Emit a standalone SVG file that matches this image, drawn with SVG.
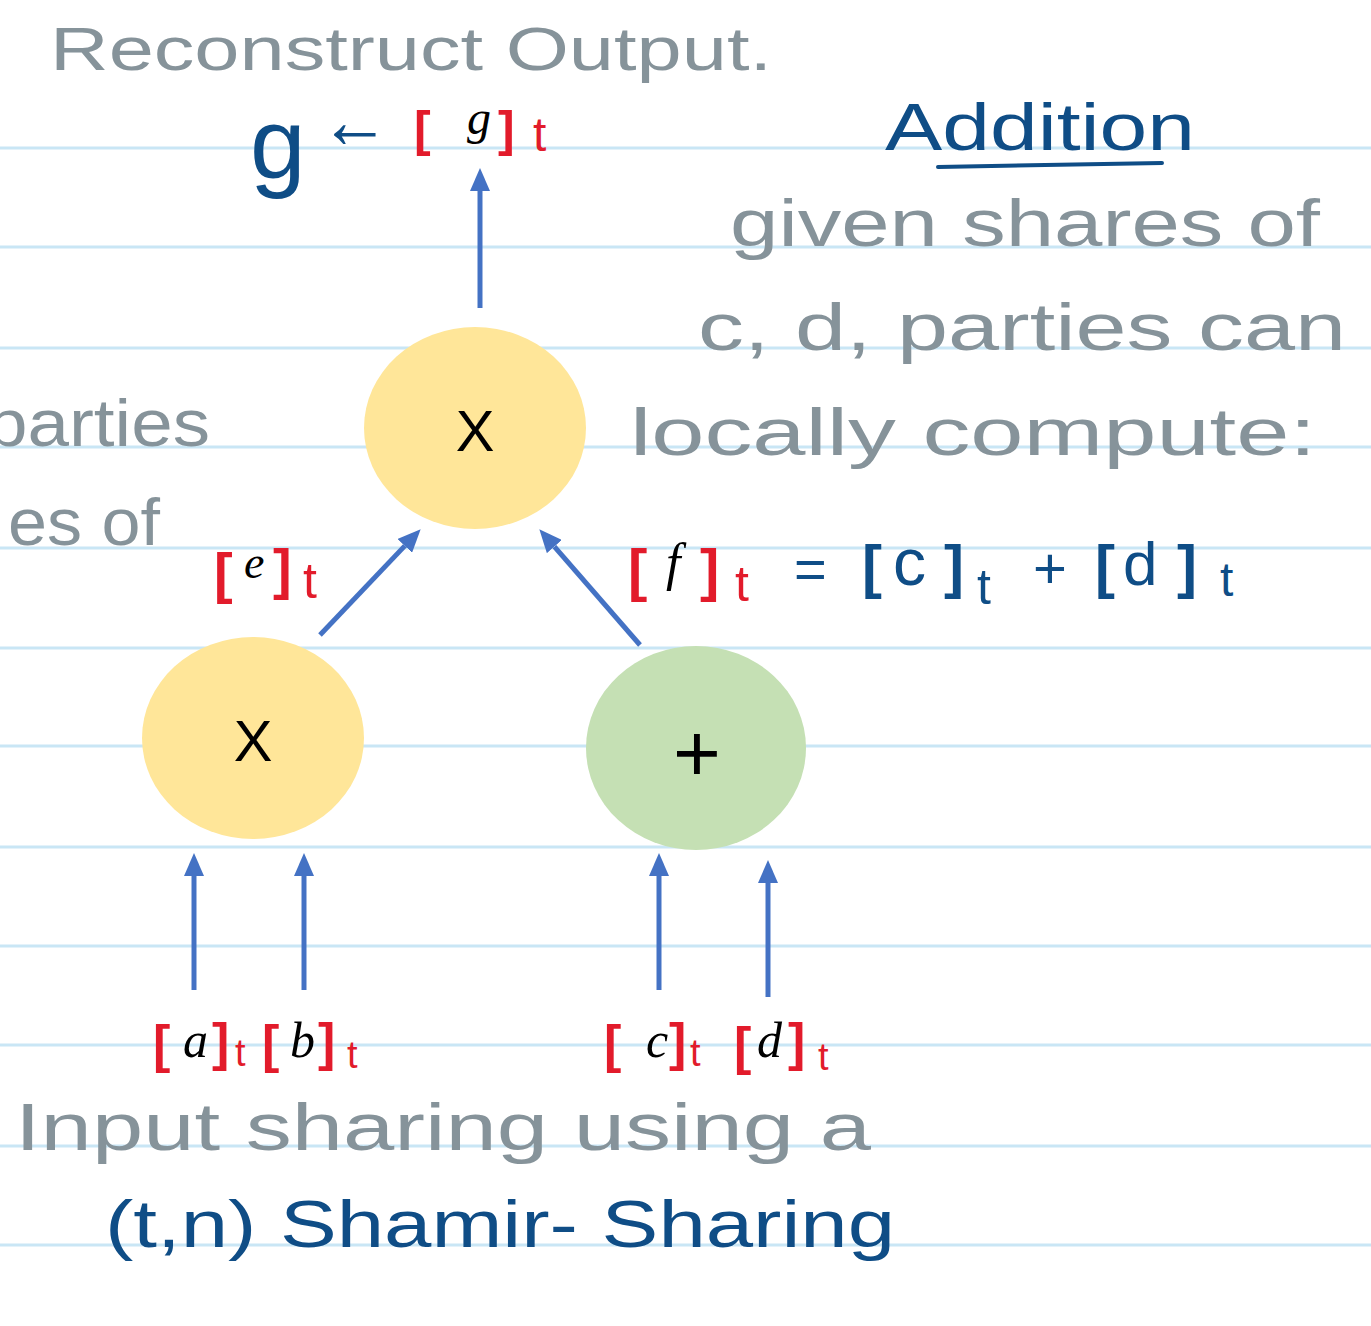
<svg xmlns="http://www.w3.org/2000/svg" width="1371" height="1326" viewBox="0 0 1371 1326">
<defs>
<marker id="ah" markerUnits="userSpaceOnUse" markerWidth="23" markerHeight="20" refX="0" refY="10" orient="auto" viewBox="0 0 23 20">
<path d="M0,0 L23,10 L0,20 Z" fill="#4472C4"/>
</marker>
<style>
.rule{stroke:#c9e6f5;stroke-width:3}
.gray{fill:#86939a;font-family:"Liberation Sans",Arial,sans-serif}
.blue{fill:#0f4d86;font-family:"Liberation Sans",Arial,sans-serif}
.red{fill:#e21b2b;font-family:"Liberation Sans",Arial,sans-serif}
.br{font-weight:bold}
.math{fill:#000;font-family:"Liberation Serif","Times New Roman",serif;font-style:italic}
.op{fill:#000;font-family:"Liberation Sans",Arial,sans-serif;text-anchor:middle}
.conn{stroke:#4472C4;stroke-width:5;fill:none;marker-end:url(#ah)}
</style>
</defs>
<rect width="1371" height="1326" fill="#ffffff"/>
<g id="rules">
<line class="rule" x1="0" y1="148" x2="1371" y2="148"/>
<line class="rule" x1="0" y1="247" x2="1371" y2="247"/>
<line class="rule" x1="0" y1="348" x2="1371" y2="348"/>
<line class="rule" x1="0" y1="447" x2="1371" y2="447"/>
<line class="rule" x1="0" y1="548" x2="1371" y2="548"/>
<line class="rule" x1="0" y1="648" x2="1371" y2="648"/>
<line class="rule" x1="0" y1="746" x2="1371" y2="746"/>
<line class="rule" x1="0" y1="847" x2="1371" y2="847"/>
<line class="rule" x1="0" y1="946" x2="1371" y2="946"/>
<line class="rule" x1="0" y1="1045" x2="1371" y2="1045"/>
<line class="rule" x1="0" y1="1146" x2="1371" y2="1146"/>
<line class="rule" x1="0" y1="1245" x2="1371" y2="1245"/>
</g>
<g id="notes">
<text class="gray" x="50" y="70" font-size="62" textLength="722" lengthAdjust="spacingAndGlyphs">Reconstruct Output.</text>
<text class="blue" x="250" y="178" font-size="100">g</text>
<text class="blue br" x="320" y="148" font-size="80" textLength="70" lengthAdjust="spacingAndGlyphs">←</text>
<text class="red br" x="414" y="146" font-size="50">[</text>
<text class="math" x="467" y="134" font-size="48">g</text>
<text class="red br" x="498" y="146" font-size="50">]</text>
<text class="red" x="533" y="151" font-size="48">t</text>
<text class="blue" x="885" y="150" font-size="66" textLength="310" lengthAdjust="spacingAndGlyphs">Addition</text>
<line x1="938" y1="167" x2="1162" y2="163" stroke="#0f4d86" stroke-width="4" stroke-linecap="round"/>
<text class="gray" x="730" y="246" font-size="66" textLength="590" lengthAdjust="spacingAndGlyphs">given shares of</text>
<text class="gray" x="698" y="350" font-size="66" textLength="648" lengthAdjust="spacingAndGlyphs">c, d, parties can</text>
<text class="gray" x="630" y="455" font-size="66" textLength="686" lengthAdjust="spacingAndGlyphs">locally compute:</text>
<text class="gray" x="-14" y="446" font-size="66" textLength="224" lengthAdjust="spacingAndGlyphs">parties</text>
<text class="gray" x="8" y="545" font-size="66" textLength="152" lengthAdjust="spacingAndGlyphs">es of</text>
<text class="red br" x="628" y="590" font-size="58">[</text>
<text class="math" x="666" y="580" font-size="52">f</text>
<text class="red br" x="700" y="590" font-size="58">]</text>
<text class="red" x="735" y="601" font-size="50">t</text>
<text class="blue" x="794" y="588" font-size="56">=</text>
<text class="blue br" x="862" y="587" font-size="60">[</text>
<text class="blue" x="893" y="585" font-size="66">c</text>
<text class="blue br" x="944" y="587" font-size="60">]</text>
<text class="blue" x="977" y="604" font-size="50">t</text>
<text class="blue" x="1033" y="588" font-size="58">+</text>
<text class="blue br" x="1095" y="587" font-size="60">[</text>
<text class="blue" x="1123" y="585" font-size="62">d</text>
<text class="blue br" x="1177" y="587" font-size="60">]</text>
<text class="blue" x="1220" y="596" font-size="48">t</text>
<text class="red br" x="214" y="592" font-size="56">[</text>
<text class="math" x="244" y="578" font-size="46">e</text>
<text class="red br" x="273" y="588" font-size="56">]</text>
<text class="red" x="303" y="598" font-size="50">t</text>
<text class="red br" x="153" y="1062" font-size="52">[</text>
<text class="math" x="183" y="1057" font-size="50">a</text>
<text class="red br" x="212" y="1060" font-size="52">]</text>
<text class="red" x="235" y="1066" font-size="38">t</text>
<text class="red br" x="262" y="1062" font-size="52">[</text>
<text class="math" x="290" y="1057" font-size="50">b</text>
<text class="red br" x="318" y="1060" font-size="52">]</text>
<text class="red" x="347" y="1068" font-size="38">t</text>
<text class="red br" x="604" y="1062" font-size="52">[</text>
<text class="math" x="646" y="1057" font-size="50">c</text>
<text class="red br" x="669" y="1060" font-size="52">]</text>
<text class="red" x="690" y="1066" font-size="38">t</text>
<text class="red br" x="734" y="1064" font-size="52">[</text>
<text class="math" x="757" y="1057" font-size="50">d</text>
<text class="red br" x="788" y="1060" font-size="52">]</text>
<text class="red" x="818" y="1070" font-size="38">t</text>
<text class="gray" x="15" y="1150" font-size="66" textLength="856" lengthAdjust="spacingAndGlyphs">Input sharing using a</text>
<text class="blue" x="105" y="1247" font-size="66" textLength="790" lengthAdjust="spacingAndGlyphs">(t,n) Shamir- Sharing</text>
</g>
<g id="node-mult-top">
<ellipse cx="475" cy="428" rx="111" ry="101" fill="#FFE699"/>
<text class="op" x="475" y="451" font-size="58">X</text>
</g>
<g id="node-mult-left">
<ellipse cx="253" cy="738" rx="111" ry="101" fill="#FFE699"/>
<text class="op" x="253" y="761" font-size="58">X</text>
</g>
<g id="node-add">
<ellipse cx="696" cy="748" rx="110" ry="102" fill="#C5E0B4"/>
<text class="op" x="697" y="781" font-size="82">+</text>
</g>
<g id="connectors">
<line class="conn" x1="480" y1="308" x2="480" y2="191"/>
<line class="conn" x1="320" y1="635" x2="404.8" y2="545.9"/>
<line class="conn" x1="640" y1="645" x2="554.4" y2="546.6"/>
<line class="conn" x1="194" y1="990" x2="194" y2="876"/>
<line class="conn" x1="304" y1="990" x2="304" y2="876"/>
<line class="conn" x1="659" y1="990" x2="659" y2="876"/>
<line class="conn" x1="768" y1="997" x2="768" y2="883"/>
</g>
</svg>
